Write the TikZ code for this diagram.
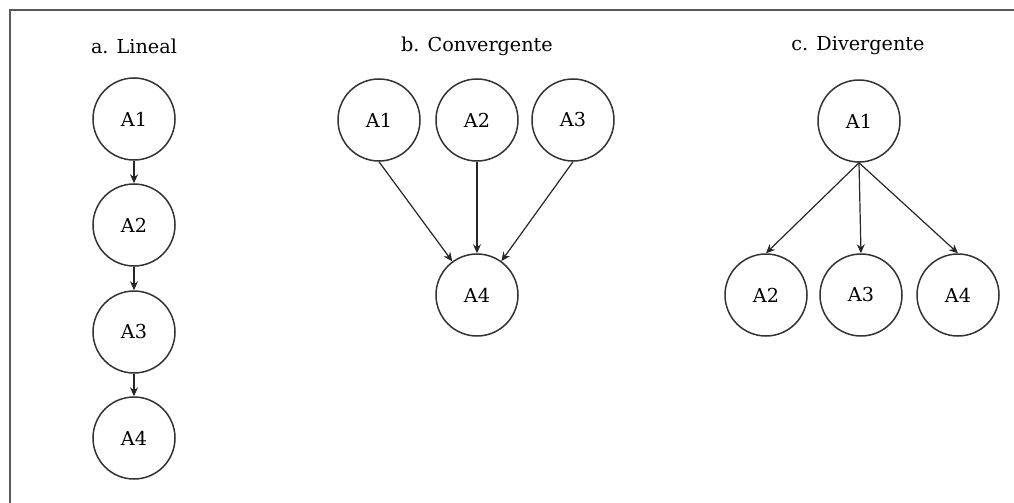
\documentclass[tikz,border=0pt]{standalone}
\usepackage{fontspec}
\setmainfont{DejaVu Serif}
\usetikzlibrary{arrows.meta}
\tikzset{
  act/.style={circle, draw=black!80, line width=0.75pt, minimum size=41pt, inner sep=0pt, font=\fontsize{9.6}{11}\selectfont},
  ttl/.style={font=\fontsize{9.6}{11}\selectfont, inner sep=0pt},
  link/.style={draw=black!85, line width=0.6pt, -{Stealth[length=4.5pt,width=4pt]}},
  frame/.style={draw=black!65, line width=1pt}
}
\begin{document}
\begin{tikzpicture}[x=0.5pt,y=-0.5pt]
\useasboundingbox (0,0) rectangle (1014,503);
\draw[frame] (1014,9.5) -- (9.5,9.5) -- (9.5,503);
% a. Lineal
\node[ttl] (ta) at (134,46) {a. Lineal};
\node[act] (a1) at (134,119) {A1};
\node[act] (a2) at (134,225) {A2};
\node[act] (a3) at (134,332) {A3};
\node[act] (a4) at (134,438) {A4};
\draw[link] (a1.south) -- (a2.north);
\draw[link] (a2.south) -- (a3.north);
\draw[link] (a3.south) -- (a4.north);
% b. Convergente
\node[ttl] (tb) at (477,46) {b. Convergente};
\node[act] (b1) at (379,120) {A1};
\node[act] (b2) at (477,120) {A2};
\node[act] (b3) at (573,120) {A3};
\node[act] (b4) at (477,295) {A4};
\draw[link] (b1.south) -- (b4);
\draw[link] (b2.south) -- (b4.north);
\draw[link] (b3.south) -- (b4);
% c. Divergente
\node[ttl] (tc) at (858,46) {c. Divergente};
\node[act] (c1) at (859,121) {A1};
\node[act] (c2) at (766,295) {A2};
\node[act] (c3) at (861,295) {A3};
\node[act] (c4) at (958,295) {A4};
\draw[link] (c1.south) -- (c2.north);
\draw[link] (c1.south) -- (c3.north);
\draw[link] (c1.south) -- (c4.north);
\end{tikzpicture}
\end{document}
